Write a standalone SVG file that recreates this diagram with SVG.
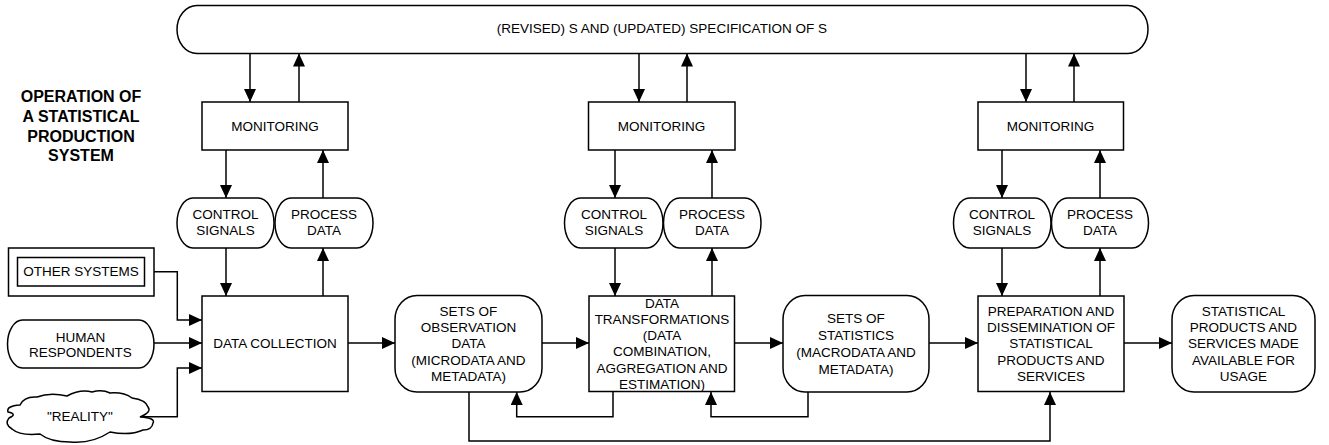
<svg xmlns="http://www.w3.org/2000/svg" width="1329" height="445" viewBox="0 0 1329 445">
  <style>
    .shape { fill: #ffffff; stroke: #000000; stroke-width: 1.5; }
    .line { fill: none; stroke: #000000; stroke-width: 1.5; }
    .arr { fill: none; stroke: #000000; stroke-width: 1.5; marker-end: url(#head); }
    text { font-family: "Liberation Sans", Arial, sans-serif; font-size: 13.5px; fill: #000000; text-anchor: middle; }
    .title { font-size: 16px; font-weight: bold; }
  </style>
  <defs>
    <marker id="head" markerUnits="userSpaceOnUse" markerWidth="14" markerHeight="13" refX="13" refY="6" orient="auto">
      <path d="M0,0 L13,6 L0,12 z" fill="#000000"/>
    </marker>
  </defs>
  <rect width="1329" height="445" fill="#ffffff"/>

  <!-- heading -->
  <g id="title">
    <text class="title" x="81" y="102">OPERATION OF</text>
    <text class="title" x="81" y="121.5">A STATISTICAL</text>
    <text class="title" x="81" y="141.5">PRODUCTION</text>
    <text class="title" x="81" y="161">SYSTEM</text>
  </g>

  <!-- connectors -->
  <g id="connectors">
    <!-- specification bar <-> monitoring -->
    <path class="arr" d="M250,53.5 V102"/>
    <path class="arr" d="M299,102 V53.5"/>
    <path class="arr" d="M639,53.5 V102"/>
    <path class="arr" d="M687,102 V53.5"/>
    <path class="arr" d="M1026,53.5 V102"/>
    <path class="arr" d="M1074,102 V53.5"/>
    <!-- monitoring <-> signals / process data -->
    <path class="arr" d="M226,150 V198"/>
    <path class="arr" d="M323,198 V150"/>
    <path class="arr" d="M615,150 V198"/>
    <path class="arr" d="M712,198 V150"/>
    <path class="arr" d="M1002,150 V198"/>
    <path class="arr" d="M1100,198 V150"/>
    <!-- signals / process data <-> process steps -->
    <path class="arr" d="M226,248 V296"/>
    <path class="arr" d="M323,296 V248"/>
    <path class="arr" d="M615,248 V296"/>
    <path class="arr" d="M712,296 V248"/>
    <path class="arr" d="M1002,248 V296"/>
    <path class="arr" d="M1100,296 V248"/>
    <!-- inputs to data collection -->
    <path class="arr" d="M154,271.7 H177.3 V320 H202"/>
    <path class="arr" d="M154,343 H202"/>
    <path class="arr" d="M142,416.7 H177.3 V368 H202"/>
    <!-- main flow -->
    <path class="arr" d="M348,343 H395"/>
    <path class="arr" d="M542,343 H589"/>
    <path class="arr" d="M734,343 H783"/>
    <path class="arr" d="M929,343 H978"/>
    <path class="arr" d="M1124,343 H1172"/>
    <!-- feedback loops -->
    <path class="arr" d="M613,392 V416.7 H516.7 V392"/>
    <path class="arr" d="M808,392 V416.7 H711 V392"/>
    <path class="arr" d="M469,392 V441 H1050 V392"/>
  </g>

  <!-- specification bar -->
  <g id="specification">
    <path class="shape" d="M197,5.5 H1128 A20,24 0 0 1 1128,53.5 H197 A20,24 0 0 1 197,5.5 z"/>
    <text x="662" y="33">(REVISED) S AND (UPDATED) SPECIFICATION OF S</text>
  </g>

  <!-- monitoring boxes -->
  <g id="monitoring-1">
    <rect class="shape" x="202" y="102" width="146" height="48"/>
    <text x="275" y="130.8">MONITORING</text>
  </g>
  <g id="monitoring-2">
    <rect class="shape" x="588.5" y="102" width="146.5" height="48"/>
    <text x="661.5" y="130.8">MONITORING</text>
  </g>
  <g id="monitoring-3">
    <rect class="shape" x="978" y="102" width="145.5" height="48"/>
    <text x="1050.5" y="130.8">MONITORING</text>
  </g>

  <!-- control signals / process data -->
  <g id="control-1">
    <rect class="shape" x="177" y="198" width="97" height="50" rx="16" ry="25"/>
    <text x="225.5" y="218.8">CONTROL</text>
    <text x="225.5" y="234.8">SIGNALS</text>
  </g>
  <g id="process-1">
    <rect class="shape" x="275" y="198" width="98" height="50" rx="16" ry="25"/>
    <text x="324" y="218.8">PROCESS</text>
    <text x="324" y="234.8">DATA</text>
  </g>
  <g id="control-2">
    <rect class="shape" x="564.5" y="198" width="98.5" height="50" rx="16" ry="25"/>
    <text x="614" y="218.8">CONTROL</text>
    <text x="614" y="234.8">SIGNALS</text>
  </g>
  <g id="process-2">
    <rect class="shape" x="663.5" y="198" width="97.5" height="50" rx="16" ry="25"/>
    <text x="712" y="218.8">PROCESS</text>
    <text x="712" y="234.8">DATA</text>
  </g>
  <g id="control-3">
    <rect class="shape" x="953.5" y="198" width="97.5" height="50" rx="16" ry="25"/>
    <text x="1002" y="218.8">CONTROL</text>
    <text x="1002" y="234.8">SIGNALS</text>
  </g>
  <g id="process-3">
    <rect class="shape" x="1051.5" y="198" width="97" height="50" rx="16" ry="25"/>
    <text x="1100" y="218.8">PROCESS</text>
    <text x="1100" y="234.8">DATA</text>
  </g>

  <!-- inputs -->
  <g id="other-systems">
    <rect class="shape" x="8.5" y="248" width="145.5" height="48"/>
    <rect class="shape" x="17.5" y="257.5" width="127" height="28.5"/>
    <text x="81" y="275.5">OTHER SYSTEMS</text>
  </g>
  <g id="human-respondents">
    <rect class="shape" x="7.5" y="320" width="146.5" height="48" rx="15" ry="24"/>
    <text x="80.5" y="341.5">HUMAN</text>
    <text x="80.5" y="357">RESPONDENTS</text>
  </g>
  <g id="reality">
    <path class="shape" d="M20,405 Q24,396 37,397 Q50,392 67,396 Q80,389 92,392 Q102,389 110,393 Q124,392 132,398 Q146,400 148,407 Q152,412 140,417 Q156,418 153,423 Q152,430 143,430 Q130,436 110,432 Q92,444 70,442 Q50,442 40,434 Q20,436 12,429 Q4,424 9,418 Q18,414 8,412 Q6,406 20,405 z"/>
    <text x="80" y="421">"REALITY"</text>
  </g>

  <!-- main process -->
  <g id="data-collection">
    <rect class="shape" x="202" y="296" width="146" height="95.5"/>
    <text x="275" y="348">DATA COLLECTION</text>
  </g>
  <g id="observation-data">
    <rect class="shape" x="395" y="295.5" width="147" height="96.5" rx="22" ry="24"/>
    <text x="468.5" y="315.5">SETS OF</text>
    <text x="468.5" y="331.9">OBSERVATION</text>
    <text x="468.5" y="348.3">DATA</text>
    <text x="468.5" y="364.7">(MICRODATA AND</text>
    <text x="468.5" y="381.1">METADATA)</text>
  </g>
  <g id="data-transformations">
    <rect class="shape" x="589" y="296" width="145.5" height="95.5"/>
    <text x="662" y="307.5">DATA</text>
    <text x="662" y="323.8">TRANSFORMATIONS</text>
    <text x="662" y="340.1">(DATA</text>
    <text x="662" y="356.4">COMBINATION,</text>
    <text x="662" y="372.7">AGGREGATION AND</text>
    <text x="662" y="389">ESTIMATION)</text>
  </g>
  <g id="statistics">
    <rect class="shape" x="783" y="295.5" width="146" height="96.5" rx="22" ry="24"/>
    <text x="856" y="323.3">SETS OF</text>
    <text x="856" y="340.3">STATISTICS</text>
    <text x="856" y="357.3">(MACRODATA AND</text>
    <text x="856" y="374.3">METADATA)</text>
  </g>
  <g id="dissemination">
    <rect class="shape" x="978" y="296" width="146" height="95.5"/>
    <text x="1051" y="315.5">PREPARATION AND</text>
    <text x="1051" y="331.9">DISSEMINATION OF</text>
    <text x="1051" y="348.3">STATISTICAL</text>
    <text x="1051" y="364.7">PRODUCTS AND</text>
    <text x="1051" y="381.1">SERVICES</text>
  </g>
  <g id="products">
    <rect class="shape" x="1172" y="295.5" width="143" height="96.5" rx="22" ry="24"/>
    <text x="1243.5" y="315.5">STATISTICAL</text>
    <text x="1243.5" y="331.9">PRODUCTS AND</text>
    <text x="1243.5" y="348.3">SERVICES MADE</text>
    <text x="1243.5" y="364.7">AVAILABLE FOR</text>
    <text x="1243.5" y="381.1">USAGE</text>
  </g>
</svg>
